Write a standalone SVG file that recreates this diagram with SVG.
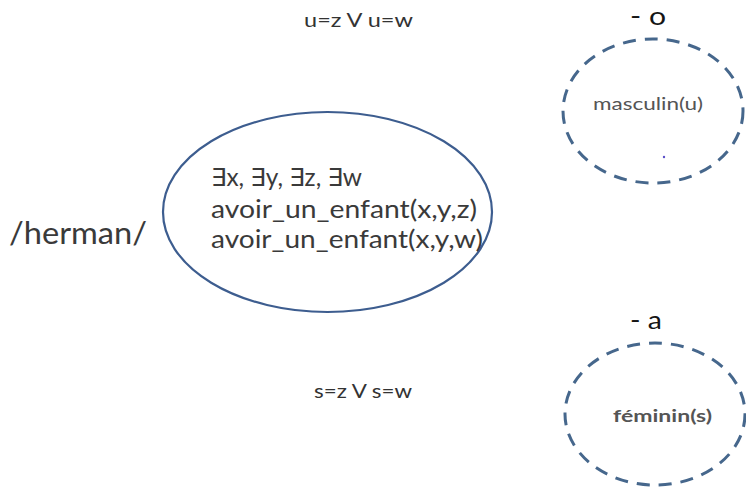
<svg xmlns="http://www.w3.org/2000/svg" width="746" height="488" viewBox="0 0 746 488">
<style>
  .t { font-family: Lato, "Open Sans", "DejaVu Sans", sans-serif; fill: #3a3a3a; }
  .main { fill: #ffffff; stroke: #3d5d8f; stroke-width: 2.2; }
  .dash { fill: none; stroke: #46678c; stroke-width: 3; stroke-dasharray: 13 9; }
  .small { font-size: 17px; fill: #555555; }
  .cond { font-size: 20px; fill: #333333; }
  .suf { font-size: 25px; fill: #151515; }
</style>
<rect width="746" height="488" fill="#ffffff"/>
<g id="connectors"></g>
<g id="herman">
  <text class="t" x="9" y="244" font-size="30" textLength="138" lengthAdjust="spacingAndGlyphs" fill="#222222">/herman/</text>
</g>
<g id="main-node">
  <ellipse class="main" cx="327.5" cy="212" rx="164.5" ry="100"/>
  <text class="t" x="211" y="186" font-size="25" textLength="151" lengthAdjust="spacingAndGlyphs">∃x, ∃y, ∃z, ∃w</text>
  <text class="t" x="211" y="218" font-size="25" textLength="266" lengthAdjust="spacingAndGlyphs">avoir_un_enfant(x,y,z)</text>
  <text class="t" x="211" y="248" font-size="25" textLength="272" lengthAdjust="spacingAndGlyphs">avoir_un_enfant(x,y,w)</text>
</g>
<g id="cond-u">
  <text class="t cond" x="304" y="27" textLength="109" lengthAdjust="spacingAndGlyphs">u=z V u=w</text>
</g>
<g id="cond-s">
  <text class="t cond" x="314" y="398" textLength="98" lengthAdjust="spacingAndGlyphs">s=z V s=w</text>
</g>
<g id="masculin">
  <text class="t suf" x="630" y="25" textLength="36" lengthAdjust="spacingAndGlyphs">- o</text>
  <ellipse class="dash" cx="653" cy="111" rx="90" ry="72"/>
  <text class="t small" x="593" y="110" textLength="110" lengthAdjust="spacingAndGlyphs">masculin(u)</text>
  <circle cx="664" cy="157" r="1.2" fill="#5a4fc8"/>
</g>
<g id="feminin">
  <text class="t suf" x="630" y="329" textLength="32" lengthAdjust="spacingAndGlyphs">- a</text>
  <ellipse class="dash" cx="655" cy="414" rx="90" ry="71"/>
  <text class="t small" x="613" y="422" font-weight="bold" textLength="99" lengthAdjust="spacingAndGlyphs">féminin(s)</text>
</g>
</svg>
